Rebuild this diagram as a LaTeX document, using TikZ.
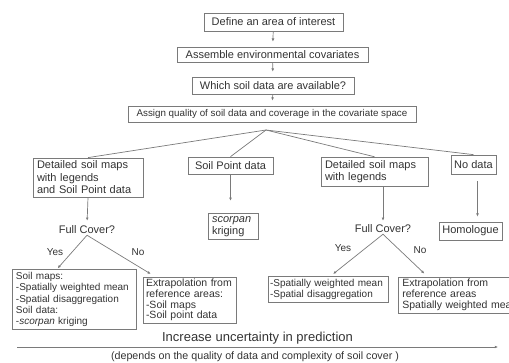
\documentclass[tikz,border=0pt]{standalone}
\usepackage{fontspec}
\setmainfont{Liberation Sans}
\usetikzlibrary{arrows.meta,positioning,calc}
\definecolor{TX}{HTML}{333333}
\definecolor{LN}{HTML}{7A7A7A}
\newcommand{\fsz}[1]{\fontsize{#1}{1.15\dimexpr #1pt\relax}\selectfont}

\begin{document}
\begin{tikzpicture}[x=1pt,y=-1pt,
  box/.style={draw=LN, line width=0.7pt, fill=white, text=TX, inner sep=0pt, align=center},
  lbox/.style={box, align=left, inner xsep=4pt, inner ysep=3pt},
  link/.style={draw=LN, line width=0.7pt},
  flow/.style={link, -{Latex[length=3.2pt,width=2.8pt]}, shorten >=5pt},
  plain/.style={text=TX, inner sep=1pt}]
\useasboundingbox (0,0) rectangle (509,363);

% top chain
\node[box, minimum width=139pt, minimum height=18pt, font=\fsz{11}] (define) at (273.5,22) {Define an area of interest};
\node[box, minimum width=191pt, minimum height=15pt, font=\fsz{11}] (assemble) at (272.5,54.5) {Assemble environmental covariates};
\node[box, minimum width=162pt, minimum height=17pt, font=\fsz{11}] (which) at (273,85.5) {Which soil data are available?};
\node[box, minimum width=288pt, minimum height=16pt, font=\fsz{9.8}] (assign) at (272,114) {Assign quality of soil data and coverage in the covariate space};
\coordinate (apex) at (266,130);

\draw[flow] (define) -- (assemble);
\draw[flow] (assemble) -- (which);
\draw[flow] (which) -- (assign);

% kinds of soil data
\node[lbox, text width=102pt, font=\fontsize{11}{12.5}\selectfont] (detpts) at (88,177.5) {Detailed soil maps\\with legends\\and Soil Point data};
\node[box, minimum width=85pt, minimum height=17pt, font=\fsz{11}] (points) at (230.5,165.5) {Soil Point data};
\node[lbox, text width=99pt, font=\fontsize{11}{12.5}\selectfont] (detmaps) at (374.5,171.5) {Detailed soil maps\\with legends};
\node[box, minimum width=45pt, minimum height=19pt, font=\fsz{11}] (nodata) at (473.5,164.5) {No data};

\foreach \n in {detpts,points,detmaps,nodata}
  \draw[link] (apex) -- (\n.north);

% second level
\node[plain, font=\fsz{11}] (cover1) at (87,230) {Full Cover?};
\node[lbox, text width=42pt, font=\fontsize{11}{12.5}\selectfont] (scorpan) at (233,226.5) {\textit{scorpan}\\kriging};
\node[plain, font=\fsz{11}] (cover2) at (383,229) {Full Cover?};
\node[box, minimum width=63pt, minimum height=18pt, font=\fsz{11}] (homologue) at (470.5,231) {Homologue};

\draw[flow, shorten >=4pt] (detpts.south) -- (cover1.north);
\draw[flow, shorten >=12pt] (points.south) -- (points.south |- scorpan.north);
\draw[flow, shorten >=3pt] (cover2.north |- detmaps.south) -- (cover2.north);
\draw[flow, shorten <=7pt] ([xshift=4pt]nodata.south) -- ([xshift=4pt]nodata.south |- homologue.north);

% outcomes
\node[lbox, text width=116pt, font=\fontsize{10}{11.2}\selectfont] (yes1) at (74,299.5) {Soil maps:\\-Spatially weighted mean\\-Spatial disaggregation\\Soil data:\\-\textit{scorpan} kriging};
\node[lbox, inner xsep=3pt, inner ysep=2pt, text width=87pt, font=\fontsize{10.5}{10.8}\selectfont] (no1) at (189.5,300) {Extrapolation from\\reference areas:\\-Soil maps\\-Soil point data};
\node[lbox, text width=116pt, inner xsep=2pt, inner ysep=2.5pt, font=\fontsize{10}{11}\selectfont] (yes2) at (328,289.5) {-Spatially weighted mean\\-Spatial disaggregation};
\node[lbox, anchor=north west, text width=116pt, inner ysep=2pt, font=\fontsize{10.5}{11}\selectfont] (no2) at (398,277) {Extrapolation from\\reference areas\\Spatially weighted mean};

\node[plain, font=\fsz{10}] (yeslbl1) at (55,252) {Yes};
\node[plain, font=\fsz{10}] (nolbl1) at (138,252) {No};
\node[plain, font=\fsz{10}] (yeslbl2) at (343,248) {Yes};
\node[plain, font=\fsz{10}] (nolbl2) at (420,250) {No};

\draw[flow, shorten >=1pt] (cover1.south) -- ([xshift=-17pt]yes1.north);
\draw[flow] (cover1.south) -- ([xshift=-34.5pt]no1.north);
\draw[flow, shorten >=4pt] (cover2.south) -- ([xshift=2pt]yes2.north);
\draw[flow] (cover2.south) -- ([xshift=30pt]no2.north west);

% uncertainty axis
\node[plain, font=\fsz{13}] (increase) at (257.5,338.5) {Increase uncertainty in prediction};
\coordinate (ustart) at (17,347);
\coordinate (uend) at (498,347);
\draw[flow, shorten >=0pt] (ustart) -- (uend);
\node[plain, font=\fsz{10.7}] (depends) at (255,356.5) {(depends on the quality of data and complexity of soil cover )};
\end{tikzpicture}
\end{document}
